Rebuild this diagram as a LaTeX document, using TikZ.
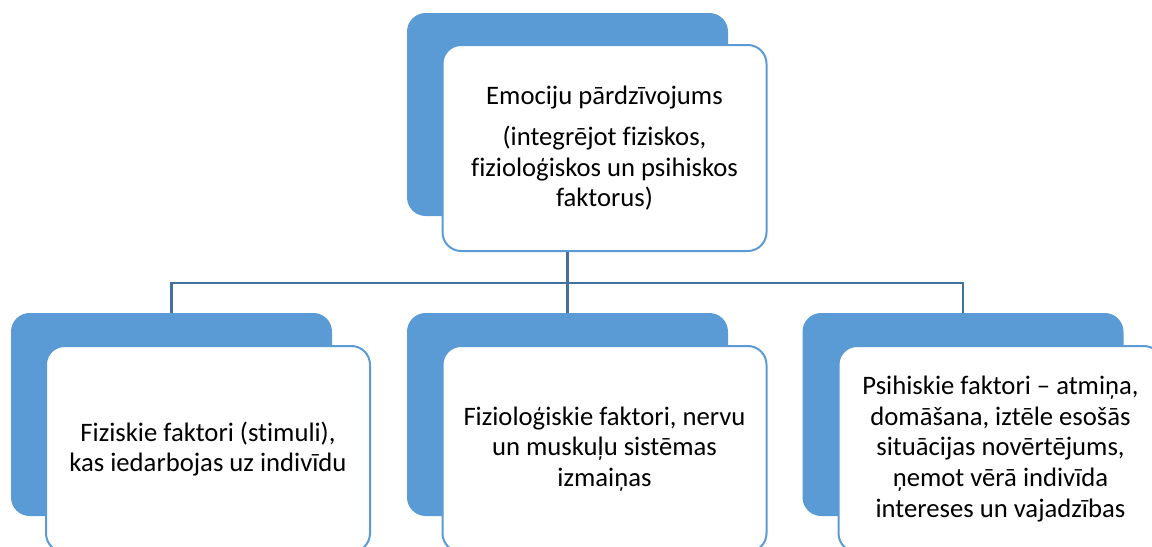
\documentclass[tikz,border=0pt]{standalone}
\usepackage{fontspec}
\setmainfont[Ligatures={NoCommon}]{Carlito}
\pgfdeclarelayer{bg}
\pgfsetlayers{bg,main}
\definecolor{accent}{HTML}{5B9BD5}
\definecolor{linkblue}{HTML}{41719C}
\begin{document}
\begin{tikzpicture}[x=0.75pt,y=-0.75pt,
  backbox/.style={draw=none, fill=accent, rounded corners=14pt, minimum width=240.75pt, minimum height=152.25pt, inner sep=0pt, outer sep=0pt},
  frontbox/.style={draw=accent, line width=1.5pt, fill=white, rounded corners=14pt, minimum width=243pt, minimum height=154.5pt, inner sep=0pt, outer sep=0pt, align=center, font=\fontsize{20}{22.9}\selectfont},
  link/.style={draw=linkblue, line width=2pt}]
\useasboundingbox (0,0) rectangle (1152,546);
\clip (0,0) rectangle (1152,546);

% top
\node[backbox] (topback) at (567.5,114.5) {};
\node[frontbox] (topfront) at (604.5,148) {Emociju pārdzīvojums\\[8pt](integrējot fiziskos,\\fizioloģiskos un psihiskos\\faktorus)};

% bottom row
\node[backbox] (leftback) at (171.5,414.5) {};
\node[frontbox] (leftfront) at (208,449) {Fiziskie faktori (stimuli),\\kas iedarbojas uz indivīdu};

\node[backbox] (midback) at (567.5,414.5) {};
\node[frontbox] (midfront) at (604.5,449) {Fizioloģiskie faktori, nervu\\un muskuļu sistēmas\\izmaiņas};

\node[backbox] (rightback) at (963,414.5) {};
\node[frontbox] (rightfront) at (1000.5,449) {Psihiskie faktori – atmiņa,\\domāšana, iztēle esošās\\situācijas novērtējums,\\ņemot vērā indivīda\\intereses un vajadzības};

\coordinate (rail) at (0,283);

\begin{pgfonlayer}{bg}
  \draw[link] (topback.south) -- (topback.south |- rail) -| (leftback.north);
  \draw[link] (topback.south |- rail) -| (rightback.north);
  \draw[link] (topback.south) -- (midback.north);
\end{pgfonlayer}
\end{tikzpicture}
\end{document}
